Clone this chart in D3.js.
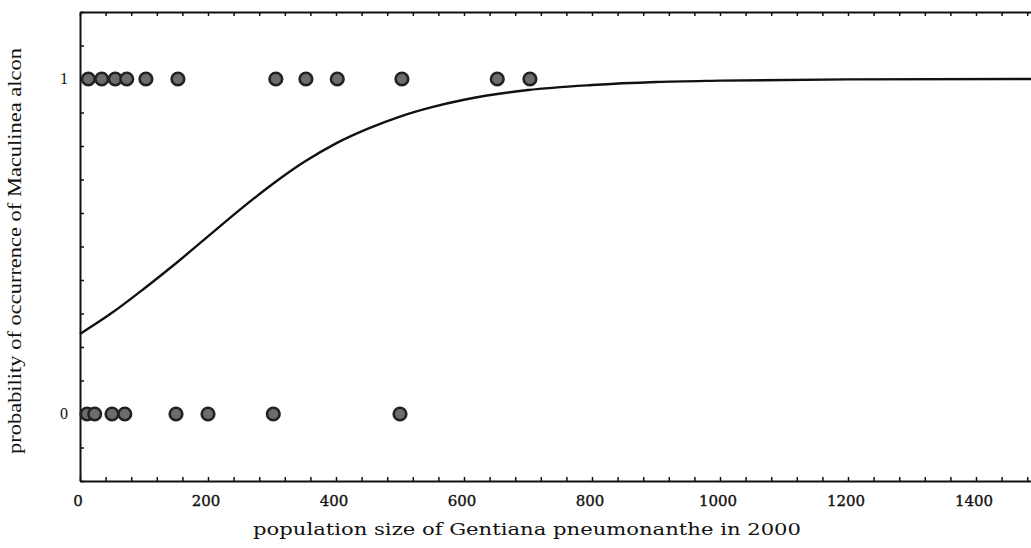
<!DOCTYPE html>
<html>
<head>
<meta charset="utf-8">
<script src="https://cdn.jsdelivr.net/npm/d3@7"></script>
<style>
  html, body { margin: 0; padding: 0; background: #fff; }
  svg { display: block; }
</style>
</head>
<body>
<svg id="chart" width="1031" height="548"></svg>
<script>
// Sites where the butterfly was present (1) or absent (0), by gentian population size
const presentSizes = [13, 34, 55, 73, 103, 153, 306, 353, 402, 503, 652, 703];
const absentSizes = [11, 23, 50, 70, 150, 200, 302, 500];

// Fitted logistic curve, read at regular population sizes
const curveX = [0, 50, 100, 150, 200, 250, 300, 350, 400, 450, 500, 550, 600, 700, 800, 900, 1000, 1200, 1500];
const curveP = [0.239, 0.302, 0.374, 0.450, 0.530, 0.610, 0.685, 0.752, 0.808, 0.852, 0.888, 0.916, 0.938, 0.967, 0.982, 0.991, 0.995, 0.999, 1.0];

// Axis ticks
const xMajorTicks = [0, 200, 400, 600, 800, 1000, 1200, 1400];
const xMinorStep = 40;
const yLabelTicks = [0, 1];
const yMinorStep = 0.1;

const xLabel = "population size of Gentiana pneumonanthe in 2000";
const yLabel = "probability of occurrence of Maculinea alcon";

const svg = d3.select("#chart");
const plotLeft = 80, plotTop = 12, plotRight = 1040, plotBottom = 481;

const x = d3.scaleLinear().domain([0, 1500]).range([plotLeft, plotRight]);
const y = d3.scaleLinear().domain([-0.2, 1.2]).range([plotBottom, plotTop]);

const xMinor = d3.range(0, 1500 + 1e-9, xMinorStep);
const yMinor = d3.range(-0.2, 1.2 + 1e-9, yMinorStep).map(v => +v.toFixed(2));

// Bottom axis with inward ticks
const gb = svg.append("g").attr("transform", `translate(0,${plotBottom})`)
  .call(d3.axisBottom(x).tickValues(xMinor).tickSizeInner(-4).tickSizeOuter(0).tickFormat(""));
// Top axis with inward ticks
const gt = svg.append("g").attr("transform", `translate(0,${plotTop})`)
  .call(d3.axisTop(x).tickValues(xMinor).tickSizeInner(-4).tickSizeOuter(0).tickFormat(""));
// Left axis with inward ticks
const gl = svg.append("g").attr("transform", `translate(${plotLeft},0)`)
  .call(d3.axisLeft(y).tickValues(yMinor).tickSizeInner(-4).tickSizeOuter(0).tickFormat(""));

[gb, gt, gl].forEach(g => {
  g.select(".domain").attr("stroke", "#111").attr("stroke-width", 2);
  g.selectAll(".tick line").attr("stroke", "#111").attr("stroke-width", 1.5);
});

// Tick labels
svg.append("g").selectAll("text").data(xMajorTicks).join("text")
  .attr("x", d => x(d) - 2)
  .attr("y", 506)
  .attr("text-anchor", "middle")
  .attr("font-family", "DejaVu Serif, serif")
  .attr("font-size", 15)
  .attr("fill", "#111")
  .attr("stroke", "#111")
  .attr("stroke-width", 0.35)
  .text(d => d);

svg.append("g").selectAll("text").data(yLabelTicks).join("text")
  .attr("x", 68)
  .attr("y", d => y(d) + 5)
  .attr("text-anchor", "end")
  .attr("font-family", "Liberation Serif, serif")
  .attr("font-size", 16)
  .attr("fill", "#111")
  .text(d => d);

// Axis titles
svg.append("text")
  .attr("x", 527).attr("y", 535)
  .attr("text-anchor", "middle")
  .attr("font-family", "DejaVu Serif, serif")
  .attr("font-size", 17)
  .attr("textLength", 548)
  .attr("lengthAdjust", "spacingAndGlyphs")
  .attr("fill", "#111")
  .text(xLabel);

svg.append("text")
  .attr("transform", "translate(21,251) rotate(-90)")
  .attr("text-anchor", "middle")
  .attr("font-family", "Liberation Serif, serif")
  .attr("font-size", 18)
  .attr("textLength", 406)
  .attr("lengthAdjust", "spacingAndGlyphs")
  .attr("fill", "#111")
  .text(yLabel);

// Logistic curve
const line = d3.line().x(d => x(d)).y((d, i) => y(curveP[i])).curve(d3.curveMonotoneX);
svg.append("path")
  .attr("d", line(curveX))
  .attr("fill", "none")
  .attr("stroke", "#111")
  .attr("stroke-width", 2.4);

// Observations
const pts = presentSizes.map(v => ({ v, p: 1 })).concat(absentSizes.map(v => ({ v, p: 0 })));
svg.append("g").selectAll("circle").data(pts).join("circle")
  .attr("cx", d => x(d.v))
  .attr("cy", d => y(d.p))
  .attr("r", 6.3)
  .attr("fill", "#6c6c6c")
  .attr("stroke", "#222")
  .attr("stroke-width", 2.6);
</script>
</body>
</html>
